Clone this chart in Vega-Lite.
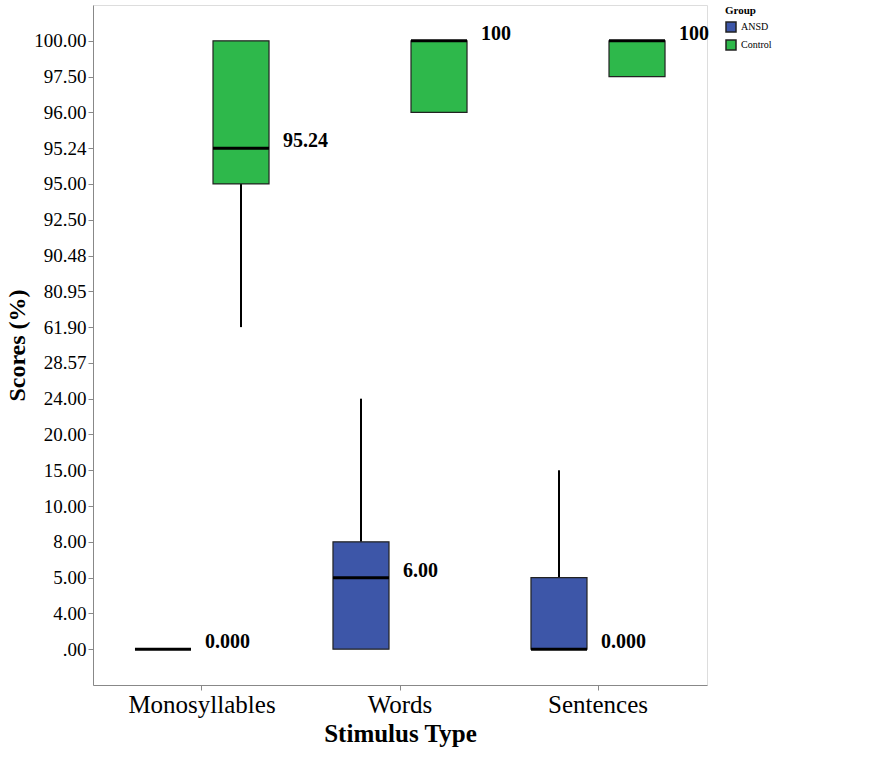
{
  "$schema": "https://vega.github.io/schema/vega-lite/v6.json",
  "width": 614,
  "height": 680,
  "background": "white",
  "config": {
    "font": "Liberation Serif"
  },
  "datasets": {
    "boxes": [
      {"stim": "Monosyllables", "group": "ANSD", "lo": ".00", "q1": ".00", "med": ".00", "q3": ".00", "hi": ".00", "label": "0.000"},
      {"stim": "Monosyllables", "group": "Control", "lo": "61.90", "q1": "95.00", "med": "95.24", "q3": "100.00", "hi": "100.00", "label": "95.24"},
      {"stim": "Words", "group": "ANSD", "lo": ".00", "q1": ".00", "med": "5.00", "q3": "8.00", "hi": "24.00", "label": "6.00"},
      {"stim": "Words", "group": "Control", "lo": "96.00", "q1": "96.00", "med": "100.00", "q3": "100.00", "hi": "100.00", "label": "100"},
      {"stim": "Sentences", "group": "ANSD", "lo": ".00", "q1": ".00", "med": ".00", "q3": "5.00", "hi": "15.00", "label": "0.000"},
      {"stim": "Sentences", "group": "Control", "lo": "97.50", "q1": "97.50", "med": "100.00", "q3": "100.00", "hi": "100.00", "label": "100"}
    ]
  },
  "encoding": {
    "x": {
      "field": "stim",
      "type": "nominal",
      "sort": ["Monosyllables", "Words", "Sentences"],
      "scale": {"type": "band", "paddingInner": 0.323, "paddingOuter": 0.212},
      "title": "Stimulus Type",
      "axis": {"labelAngle": 0, "labelFontSize": 25, "titleFontSize": 25}
    },
    "y": {
      "type": "ordinal",
      "scale": {
        "type": "point",
        "padding": 1.5,
        "domain": ["100.00", "97.50", "96.00", "95.24", "95.00", "92.50", "90.48", "80.95", "61.90", "28.57", "24.00", "20.00", "15.00", "10.00", "8.00", "5.00", "4.00", ".00"]
      },
      "title": "Scores (%)",
      "axis": {"labelFontSize": 19, "titleFontSize": 24}
    }
  },
  "layer": [
    {
      "data": {"name": "boxes"},
      "mark": {"type": "rule", "stroke": "black", "strokeWidth": 2},
      "encoding": {
        "xOffset": {
          "field": "group",
          "type": "nominal",
          "scale": {"domain": ["ANSD", "Control"], "paddingInner": 0.282, "paddingOuter": 0}
        },
        "y": {"field": "hi"},
        "y2": {"field": "q3"}
      }
    },
    {
      "data": {"name": "boxes"},
      "mark": {"type": "rule", "stroke": "black", "strokeWidth": 2},
      "encoding": {
        "xOffset": {"field": "group", "type": "nominal"},
        "y": {"field": "lo"},
        "y2": {"field": "q1"}
      }
    },
    {
      "data": {"name": "boxes"},
      "mark": {"type": "rect", "stroke": "#222222", "strokeWidth": 1.2},
      "encoding": {
        "xOffset": {"field": "group", "type": "nominal"},
        "y": {"field": "q3"},
        "y2": {"field": "q1"},
        "color": {
          "field": "group",
          "type": "nominal",
          "title": "Group",
          "scale": {"domain": ["ANSD", "Control"], "range": ["#3D56A8", "#2EB84B"]}
        }
      }
    },
    {
      "data": {"name": "boxes"},
      "mark": {"type": "rect", "fill": "black", "stroke": "black", "strokeWidth": 3},
      "encoding": {
        "xOffset": {"field": "group", "type": "nominal"},
        "y": {"field": "med"},
        "y2": {"field": "med"}
      }
    },
    {
      "data": {"name": "boxes"},
      "mark": {"type": "text", "align": "left", "baseline": "middle", "dx": 42, "dy": -7, "fontSize": 20, "fontWeight": "bold", "color": "black"},
      "encoding": {
        "xOffset": {"field": "group", "type": "nominal"},
        "y": {"field": "med"},
        "text": {"field": "label"}
      }
    }
  ]
}
